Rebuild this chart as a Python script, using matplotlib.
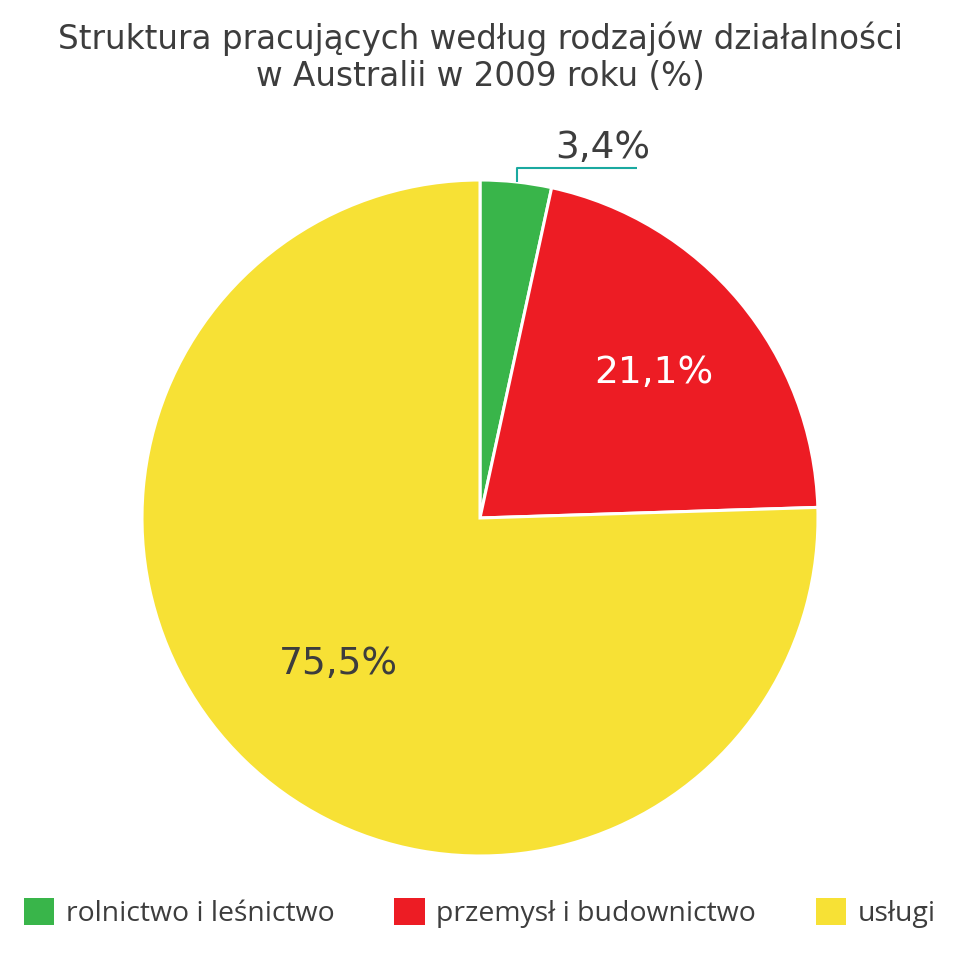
import numpy as np
import matplotlib.pyplot as plt

# dane: struktura pracujących w Australii, 2009 (%)
kategorie = ["rolnictwo i leśnictwo", "przemysł i budownictwo", "usługi"]
udzialy = [3.4, 21.1, 75.5]
kolory = ["#39b54a", "#ed1c24", "#f7e135"]
etykiety = ["3,4%", "21,1%", "75,5%"]

TEKST = "#3d3d3d"

fig = plt.figure(figsize=(9.6, 9.59), dpi=100)
fig.patch.set_facecolor("white")

# oś kwadratowa dokładnie pod koło
ax = fig.add_axes([142 / 960, 1 - 856 / 959, 676 / 960, 676 / 959])
wedges, _ = ax.pie(udzialy, colors=kolory, startangle=90, counterclock=False,
                   radius=1, wedgeprops=dict(edgecolor="white", linewidth=2.2))
ax.set_xlim(-1, 1)
ax.set_ylim(-1, 1)
ax.set_aspect("equal")
ax.axis("off")

# etykiety wewnątrz wycinków
for w, txt, r, col in zip(wedges[1:], etykiety[1:], [0.67, 0.6], ["white", TEKST]):
    mid = np.deg2rad((w.theta1 + w.theta2) / 2)
    ax.text(r * np.cos(mid), r * np.sin(mid), txt, ha="center", va="center",
            fontsize=27, color=col, family="DejaVu Sans")

# mała wartość - etykieta z linią odniesienia
x0 = 0.109
ax.plot([x0, x0, 0.464], [np.sqrt(1 - x0 ** 2), 1.036, 1.036],
        color="#1aa9a0", lw=1.5, clip_on=False, solid_capstyle="butt")
ax.text(0.364, 1.04, etykiety[0], ha="center", va="bottom", fontsize=27,
        color=TEKST, family="DejaVu Sans")

fig.text(0.5, 1 - 57 / 959,
         "Struktura pracujących według rodzajów działalności\nw Australii w 2009 roku (%)",
         ha="center", va="center", fontsize=23.5, color=TEKST, linespacing=1.15,
         family="DejaVu Sans")

leg = fig.legend(wedges, kategorie, loc="center", bbox_to_anchor=(0.5, 1 - 913 / 959),
                 ncol=3, frameon=False, handlelength=1.06, handleheight=1.06,
                 handletextpad=0.42, columnspacing=2.1,
                 prop=dict(family="Open Sans", size=20.4))
for t in leg.get_texts():
    t.set_color(TEKST)
for h in leg.legend_handles:
    h.set_edgecolor("none")

fig.savefig("out.png", dpi=100, facecolor="white")
